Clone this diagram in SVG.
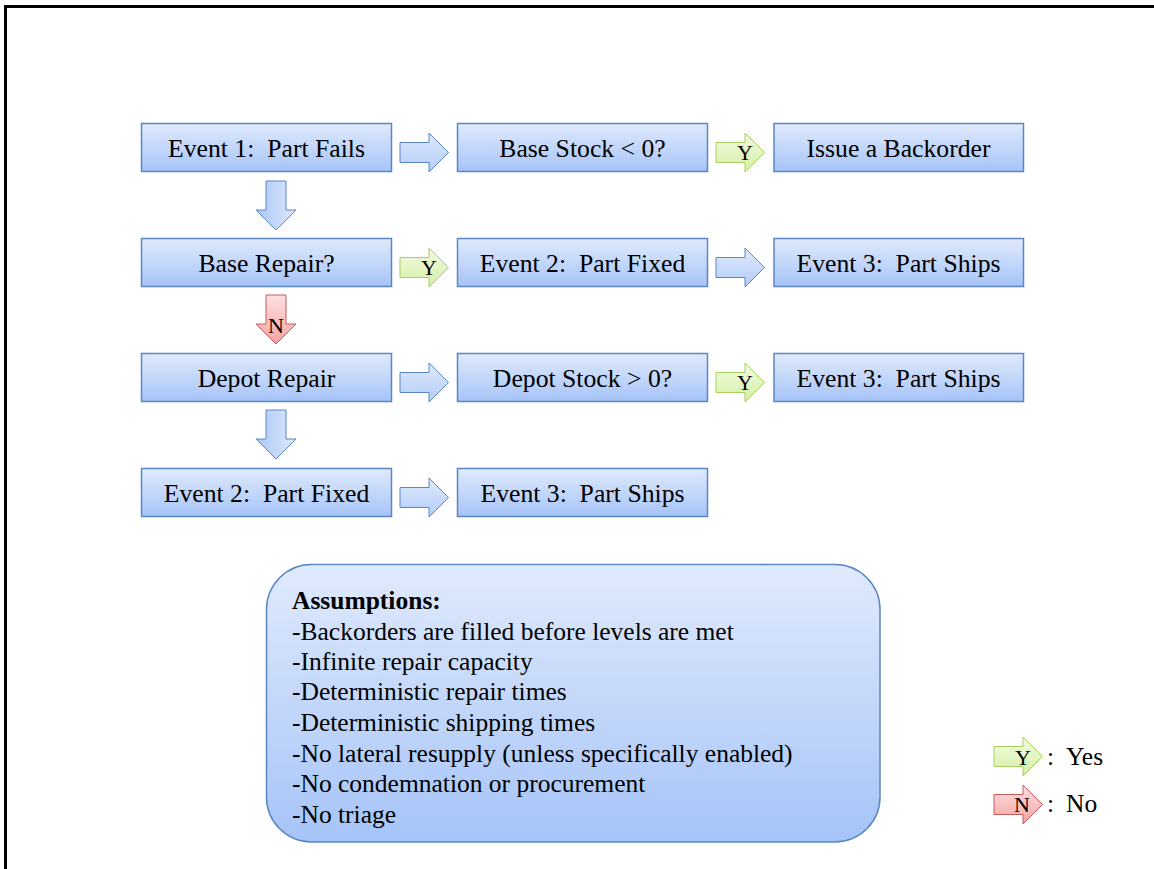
<svg xmlns="http://www.w3.org/2000/svg" width="1154" height="869" viewBox="0 0 1154 869">
<defs>
<linearGradient id="gBox" x1="0" y1="0" x2="0" y2="1"><stop offset="0" stop-color="#e0eafc"/><stop offset="1" stop-color="#a6c4f8"/></linearGradient>
<linearGradient id="gArrR" x1="0" y1="0" x2="0" y2="1"><stop offset="0" stop-color="#dfe9fc"/><stop offset="1" stop-color="#b3cdf9"/></linearGradient>
<linearGradient id="gArrD" x1="0" y1="0" x2="1" y2="0"><stop offset="0" stop-color="#aac7f8"/><stop offset="1" stop-color="#dfe9fc"/></linearGradient>
<linearGradient id="gY" x1="0" y1="0" x2="0" y2="1"><stop offset="0" stop-color="#f3fbe2"/><stop offset="1" stop-color="#d5efa6"/></linearGradient>
<linearGradient id="gN" x1="0" y1="0" x2="0" y2="1"><stop offset="0" stop-color="#fde0e0"/><stop offset="1" stop-color="#f5a3a3"/></linearGradient>
<linearGradient id="gAs" x1="0" y1="0" x2="0" y2="1"><stop offset="0" stop-color="#e0eafc"/><stop offset="1" stop-color="#a6c4f8"/></linearGradient>
<path id="arR" d="M0,9.5 H29 V0 L48.5,19.5 L29,39 V29.5 H0 Z"/>
<path id="arD" d="M10,0 H30 V29 H40 L20,49 L0,29 H10 Z"/>
</defs>
<style>
.box{fill:url(#gBox);stroke:#5a86c4;stroke-width:1.5}
.t{font-family:"Liberation Serif","Times New Roman",serif;font-size:25.7px;fill:#000;text-anchor:middle;white-space:pre}
.a{font-family:"Liberation Serif","Times New Roman",serif;font-size:25.5px;fill:#000}
.lbl{font-family:"Liberation Serif","Times New Roman",serif;font-size:22px;fill:#000;text-anchor:middle}
.ar{fill:url(#gArrR);stroke:#5a86c4;stroke-width:1}
.ad{fill:url(#gArrD);stroke:#5a86c4;stroke-width:1}
.ay{fill:url(#gY);stroke:#a8cf62;stroke-width:1}
.an{fill:url(#gN);stroke:#c75a5a;stroke-width:1}
</style>
<rect width="1154" height="869" fill="#fff"/>
<path d="M5.5,869 V6.5 H1154" fill="none" stroke="#000" stroke-width="3"/>

<g id="n1"><rect class="box" x="141.5" y="123.5" width="250" height="48"/><text class="t" x="266.5" y="157" xml:space="preserve">Event 1:  Part Fails</text></g>
<g id="n2"><rect class="box" x="457.5" y="123.5" width="250" height="48"/><text class="t" x="582.5" y="157">Base Stock &lt; 0?</text></g>
<g id="n3"><rect class="box" x="774" y="123.5" width="249.5" height="48"/><text class="t" x="898.5" y="157">Issue a Backorder</text></g>

<g id="n4"><rect class="box" x="141.5" y="238.5" width="250" height="48"/><text class="t" x="266.5" y="272">Base Repair?</text></g>
<g id="n5"><rect class="box" x="457.5" y="238.5" width="250" height="48"/><text class="t" x="582.5" y="272" xml:space="preserve">Event 2:  Part Fixed</text></g>
<g id="n6"><rect class="box" x="774" y="238.5" width="249.5" height="48"/><text class="t" x="898.5" y="272" xml:space="preserve">Event 3:  Part Ships</text></g>

<g id="n7"><rect class="box" x="141.5" y="353.5" width="250" height="48"/><text class="t" x="266.5" y="387">Depot Repair</text></g>
<g id="n8"><rect class="box" x="457.5" y="353.5" width="250" height="48"/><text class="t" x="582.5" y="387">Depot Stock &gt; 0?</text></g>
<g id="n9"><rect class="box" x="774" y="353.5" width="249.5" height="48"/><text class="t" x="898.5" y="387" xml:space="preserve">Event 3:  Part Ships</text></g>

<g id="n10"><rect class="box" x="141.5" y="468.5" width="250" height="48"/><text class="t" x="266.5" y="502" xml:space="preserve">Event 2:  Part Fixed</text></g>
<g id="n11"><rect class="box" x="457.5" y="468.5" width="250" height="48"/><text class="t" x="582.5" y="502" xml:space="preserve">Event 3:  Part Ships</text></g>

<g id="connectors">
<use href="#arR" class="ar" x="400" y="133"/>
<use href="#arR" class="ay" x="716" y="133"/>
<text class="lbl" x="745" y="160">Y</text>
<use href="#arR" class="ay" x="400" y="248"/>
<text class="lbl" x="429" y="275">Y</text>
<use href="#arR" class="ar" x="716" y="248"/>
<use href="#arR" class="ar" x="400" y="363"/>
<use href="#arR" class="ay" x="716" y="363"/>
<text class="lbl" x="745" y="390">Y</text>
<use href="#arR" class="ar" x="400" y="478"/>
<use href="#arD" class="ad" x="256" y="181"/>
<use href="#arD" class="an" x="256" y="295"/>
<text class="lbl" x="276" y="333">N</text>
<use href="#arD" class="ad" x="256" y="410"/>
</g>

<g id="assumptions">
<rect x="266.5" y="564.5" width="613.5" height="277.5" rx="45" ry="45" fill="url(#gAs)" stroke="#5a86c4" stroke-width="1.5"/>
<text class="a" x="292" y="609" font-weight="bold">Assumptions:</text>
<text class="a" x="292" y="640">-Backorders are filled before levels are met</text>
<text class="a" x="292" y="670">-Infinite repair capacity</text>
<text class="a" x="292" y="700">-Deterministic repair times</text>
<text class="a" x="292" y="731">-Deterministic shipping times</text>
<text class="a" x="292" y="762">-No lateral resupply (unless specifically enabled)</text>
<text class="a" x="292" y="792">-No condemnation or procurement</text>
<text class="a" x="292" y="823">-No triage</text>
</g>

<g id="legend">
<use href="#arR" class="ay" x="994" y="737"/>
<text class="lbl" x="1023" y="765">Y</text>
<text class="a" x="1047" y="765">:<tspan x="1066">Yes</tspan></text>
<use href="#arR" class="an" x="994" y="785"/>
<text class="lbl" x="1022" y="812">N</text>
<text class="a" x="1047" y="812">:<tspan x="1066">No</tspan></text>
</g>
</svg>
